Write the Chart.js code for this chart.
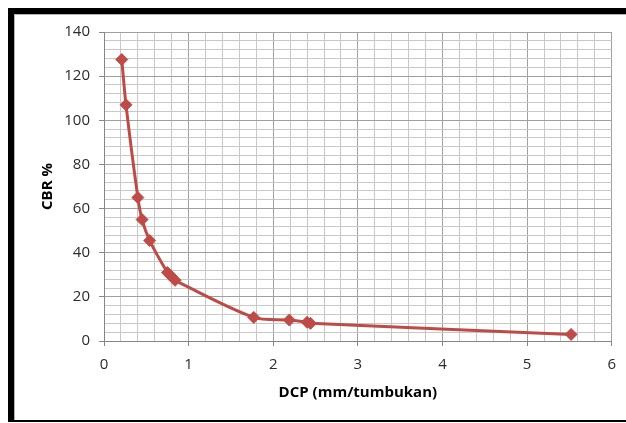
<!DOCTYPE html>
<html>
<head>
<meta charset="utf-8">
<script src="https://cdn.jsdelivr.net/npm/chart.js@4/dist/chart.umd.min.js"></script>
<style>
  html, body { margin: 0; padding: 0; background: #fff; }
  #wrap { position: relative; width: 626px; height: 423px; overflow: hidden; }
  #frame {
    position: absolute; left: 8px; top: 8px; width: 660px; height: 406px;
    border-left: 6px solid #000; border-top: 6px solid #000; border-bottom: 2px solid #000;
  }
  #frame .inner {
    position: absolute; left: 0; top: 0; right: 0; bottom: 0;
    border-left: 1px solid #b5b5b5; border-top: 1px solid #b5b5b5;
  }
  #cbrChart { position: absolute; left: 0; top: 0; }
</style>
</head>
<body>
<div id="wrap">
  <div id="frame"><div class="inner"></div></div>
  <canvas id="cbrChart" width="626" height="423"></canvas>
</div>
<script>
// DCP test results: penetration per blow vs. CBR
const dcp = [0.21, 0.26, 0.40, 0.45, 0.54, 0.75, 0.79, 0.84, 1.77, 2.19, 2.40, 2.44, 5.52];
const cbr = [127.5, 107, 65, 55, 45.5, 31, 29.5, 27.5, 10.7, 9.5, 8.5, 8.0, 3.0];

const xTickLabels = [0, 1, 2, 3, 4, 5, 6];
const yTickLabels = [0, 20, 40, 60, 80, 100, 120, 140];
const minorSteps = 5;

const lineColor = "#BE4B48";
const fontFamily = "'Open Sans', sans-serif";

// major ticks carry a label, minor ones only a grid line
function gridTicks(labels, steps) {
  const out = [];
  for (let i = 0; i < labels.length; i++) {
    out.push({ value: labels[i], labelled: true });
    if (i === labels.length - 1) break;
    const a = labels[i], b = labels[i + 1];
    for (let k = 1; k < steps; k++) {
      out.push({ value: +(a + (b - a) * k / steps).toFixed(6), labelled: false });
    }
  }
  return out;
}

function axis(labels, pad, extra) {
  return Object.assign({
    type: "linear",
    min: labels[0],
    max: labels[labels.length - 1],
    afterBuildTicks: s => { s.ticks = gridTicks(labels, minorSteps); },
    grid: {
      color: c => (c.tick && c.tick.labelled ? "#a0a0a0" : "#c8c8c8"),
      tickColor: c => (c.tick && c.tick.labelled ? "#868686" : "rgba(0,0,0,0)"),
      tickLength: 5,
      lineWidth: 1
    },
    border: { color: "#868686", width: 1 },
    ticks: {
      autoSkip: false,
      maxRotation: 0,
      padding: pad,
      color: "#2b2b2b",
      font: { family: fontFamily, size: 15 },
      callback: (v, i, ticks) => (ticks[i].labelled ? String(v) : "")
    }
  }, extra);
}

const ctx = document.getElementById("cbrChart");

new Chart(ctx, {
  type: "scatter",
  data: {
    datasets: [{
      label: "CBR",
      data: dcp.map((x, i) => ({ x, y: cbr[i] })),
      showLine: true,
      borderColor: lineColor,
      backgroundColor: lineColor,
      borderWidth: 3,
      tension: 0.3,
      pointStyle: "rectRot",
      pointRadius: 6,
      pointHoverRadius: 6,
      pointBorderWidth: 1
    }]
  },
  options: {
    responsive: false,
    animation: false,
    layout: { padding: { top: 32, right: 12, left: 0, bottom: 0 } },
    plugins: { legend: { display: false }, tooltip: { enabled: false } },
    scales: {
      x: axis(xTickLabels, 10, {
        position: "bottom",
        afterFit: s => { s.height = 82; },
        title: {
          display: true,
          text: "DCP (mm/tumbukan)",
          color: "#000",
          font: { family: fontFamily, size: 15, weight: "bold" },
          padding: { top: 0, bottom: 21 }
        }
      }),
      y: axis(yTickLabels, 9, {
        position: "left",
        afterFit: s => { s.width = 104; },
        title: {
          display: true,
          text: "CBR %",
          color: "#000",
          font: { family: fontFamily, size: 15, weight: "bold" },
          padding: { top: 39, bottom: 0 }
        }
      })
    }
  }
});
</script>
</body>
</html>
